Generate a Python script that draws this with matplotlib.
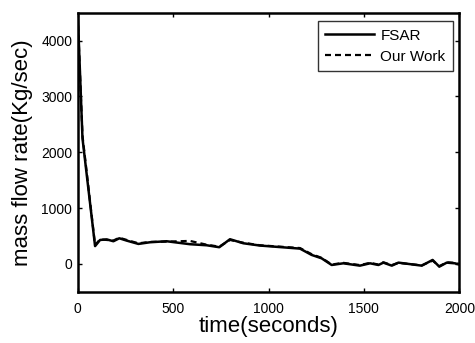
import matplotlib
matplotlib.use("Agg")
import matplotlib.pyplot as plt

plt.rcParams['font.family'] = ['Liberation Sans', 'DejaVu Sans']

# data
time_s = [0, 25, 91, 117, 152, 187, 218, 257, 318, 379, 466, 588, 676, 742,
          798, 868, 955, 1165, 1226, 1278, 1331, 1392, 1479, 1532, 1576, 1602,
          1646, 1681, 1803, 1860, 1895, 1934, 1977, 2000]
fsar = [4500, 2250, 320, 430, 440, 407, 460, 418, 359, 389, 407, 354, 335, 300,
        443, 371, 330, 275, 162, 102, -18, 12, -30, 12, -18, 24,
        -30, 24, -30, 72, -48, 24, 12, -10]
our_work = [4450, 2300, 340, 440, 430, 420, 470, 430, 370, 395, 400, 413, 345, 310,
            430, 380, 335, 285, 175, 110, -10, 20, -20, 20, -10, 30,
            -20, 20, -25, 60, -40, 30, 20, 0]

xticks = [0, 500, 1000, 1500, 2000]
yticks = [0, 1000, 2000, 3000, 4000]

fig = plt.figure(figsize=(4.75, 3.43), dpi=100)
ax = fig.add_axes([0.1636, 0.149, 0.8034, 0.814])

ax.plot(time_s, fsar, color='black', linewidth=1.8, label='FSAR')
ax.plot(time_s, our_work, color='black', linewidth=1.6, linestyle='--',
        dashes=(2.7, 1.8), label='Our Work')

ax.set_xlim(0, 2000)
ax.set_ylim(-500, 4500)
ax.set_xticks(xticks)
ax.set_yticks(yticks)
ax.tick_params(direction='in', top=True, right=True, length=3, width=1,
               labelsize=10, pad=4)
ax.tick_params(axis='x', pad=7)
for sp in ax.spines.values():
    sp.set_linewidth(1.8)

ax.set_xlabel('time(seconds)', fontsize=16, labelpad=0)
ax.set_ylabel('mass flow rate(Kg/sec)', fontsize=16, labelpad=6)

leg = ax.legend(loc='upper right', fontsize=11, frameon=True, fancybox=False,
                edgecolor='black', handlelength=3.2, handletextpad=0.4,
                borderpad=0.5, labelspacing=0.45, borderaxespad=0,
                bbox_to_anchor=(0.984, 0.97))
leg.get_frame().set_linewidth(1.0)

fig.savefig('out.png', dpi=100)
